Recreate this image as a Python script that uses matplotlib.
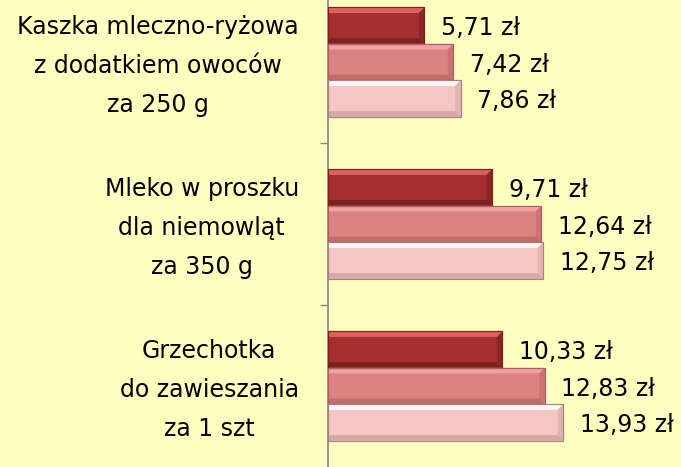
import matplotlib
matplotlib.use("Agg")
import matplotlib.pyplot as plt
from matplotlib.patches import Polygon
import matplotlib.transforms as mtransforms
import numpy as np

categories = ["Grzechotka\ndo zawieszania\nza 1 szt",
              "Mleko w proszku\ndla niemowląt\nza 350 g",
              "Kaszka mleczno-ryżowa\nz dodatkiem owoców\nza 250 g"]
series_dark = [10.33, 9.71, 5.71]
series_mid = [12.83, 12.64, 7.42]
series_light = [13.93, 12.75, 7.86]

bg = "#FFFFC0"
fig = plt.figure(figsize=(6.81, 4.67), dpi=100, facecolor=bg)
ax = fig.add_axes([328/681, 0, 1 - 328/681, 1])
ax.set_facecolor(bg)

y = np.arange(len(categories))
h = 0.225
styles = [
    (series_dark, h, "#A52F2F", "#E56A6A", "#6E1C1C", "#7A2020"),
    (series_mid, 0.0, "#DB8383", "#F2A8A8", "#B66262", "#A86060"),
    (series_light, -h, "#F5C6C6", "#FFFFFF", "#C99C9C", "#A98080"),
]
xmax = 20.9
ax.set_xlim(0, xmax)
ax.set_ylim(-0.5, 2.383)
bv_y = 0.035
bv_x = 0.33
for vals, off, base, top, bot, edge in styles:
    pos = y + off
    ax.barh(pos, vals, height=h, color=base, edgecolor=edge, linewidth=0.8, zorder=2)
    for yy, v in zip(pos, vals):
        ax.add_patch(Polygon([[0, yy + h/2], [v, yy + h/2], [v - bv_x, yy + h/2 - bv_y], [0, yy + h/2 - bv_y]],
                             closed=True, facecolor=top, edgecolor="none", alpha=0.85, zorder=3))
        ax.add_patch(Polygon([[0, yy - h/2], [v, yy - h/2], [v - bv_x, yy - h/2 + bv_y], [0, yy - h/2 + bv_y]],
                             closed=True, facecolor=bot, edgecolor="none", alpha=0.7, zorder=3))
        ax.add_patch(Polygon([[v, yy + h/2], [v, yy - h/2], [v - bv_x, yy - h/2 + bv_y], [v - bv_x, yy + h/2 - bv_y]],
                             closed=True, facecolor=bot, edgecolor="none", alpha=0.45, zorder=3))
        ax.barh(yy, v, height=h, color="none", edgecolor=edge, linewidth=0.8, zorder=4)
        ax.annotate(f"{v:.2f} zł".replace(".", ","), xy=(v, yy), xytext=(12, -2),
                    textcoords="offset points", ha="left", va="center",
                    fontsize=17, color="black", zorder=5)

ax.set_yticks(y)
ax.set_yticklabels(categories, fontsize=17, multialignment="center", linespacing=1.8)
ax.tick_params(axis="y", which="major", length=0, pad=21)
shift = mtransforms.ScaledTranslation(0, 6/100, fig.dpi_scale_trans)
for lbl in ax.get_yticklabels():
    lbl.set_transform(lbl.get_transform() + shift)
ax.set_yticks([0.5, 1.5], minor=True)
ax.tick_params(axis="y", which="minor", length=6, color="#868686", width=1)
ax.set_xticks([])
for s in ["top", "right", "bottom"]:
    ax.spines[s].set_visible(False)
ax.spines["left"].set_color("#868686")
ax.spines["left"].set_linewidth(1.2)

fig.savefig("out.png", dpi=100, facecolor=bg)
